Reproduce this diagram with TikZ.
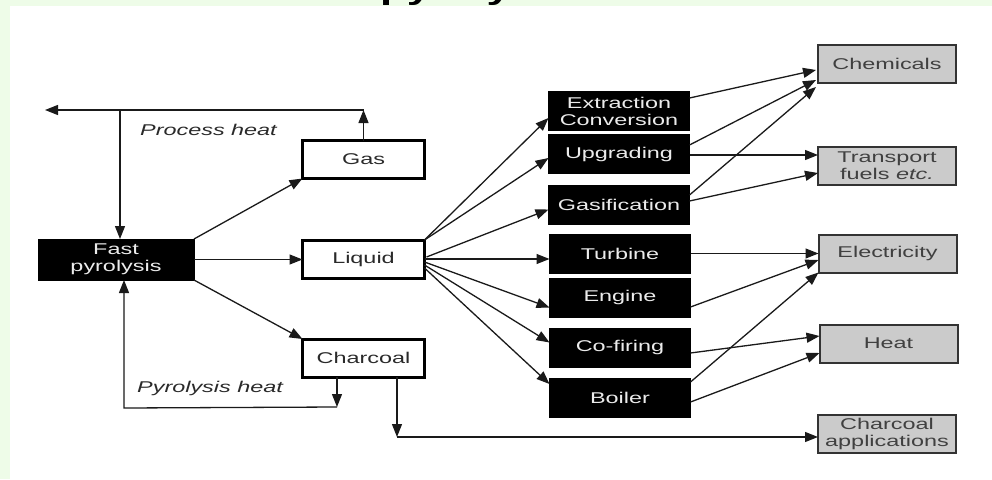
\documentclass[tikz,border=0pt]{standalone}
\usepackage{fontspec}
\setmainfont{Liberation Sans}
\usepackage{graphicx}
\usetikzlibrary{arrows.meta,calc}
\definecolor{bggreen}{HTML}{EEFCE8}
\definecolor{boxgray}{HTML}{CBCBCB}
\definecolor{txtdark}{HTML}{2A2A2A}
\definecolor{linedark}{HTML}{1A1A1A}
\newcommand{\hstretch}[1]{\scalebox{1.5}[1]{#1}}
\tikzset{
 base/.style={inner sep=0pt, outer sep=0pt, align=center, font=\fontsize{15.6}{17}\selectfont},
 blackbox/.style={base, fill=black, draw=black, line width=1pt, text=white!92!black, minimum width=141pt, minimum height=39pt},
 whitebox/.style={base, fill=white, draw=black, line width=3pt, minimum width=122pt, minimum height=38pt, text=txtdark},
 graybox/.style={base, fill=boxgray, draw=black!80, line width=2pt, minimum width=138pt, minimum height=38pt, text=black!75},
 conn/.style={draw=linedark, line width=1.3pt, -{Triangle[length=13pt,width=10pt]}},
 lbl/.style={font=\fontsize{15.6}{17}\selectfont\itshape, text=txtdark, inner sep=0pt, anchor=west},
 titletext/.style={font=\fontsize{29}{30}\selectfont\bfseries, inner sep=0pt, anchor=base west}
}
\begin{document}
\begin{tikzpicture}[x=1pt,y=-1pt]
\useasboundingbox (0,0) rectangle (992,479);
\fill[bggreen] (0,0) rectangle (992,479);
\begin{scope}
\clip (0,0) rectangle (992,6);
\node[titletext] (title) at (380,-1) {\hstretch{pyrolysis}};
\end{scope}
\fill[white] (10,6) rectangle (992,479);

% nodes
\node[blackbox, minimum width=156pt, minimum height=41pt] (fp) at (116,259.5) {\hstretch{Fast}\\\hstretch{pyrolysis}};
\node[whitebox] (gas) at (363.5,159.5) {\hstretch{Gas}};
\node[whitebox] (liq) at (363.5,259) {\hstretch{Liquid}};
\node[whitebox] (char) at (363.5,358) {\hstretch{Charcoal}};
\node[blackbox] (ext) at (619,111) {\hstretch{Extraction}\\\hstretch{Conversion}};
\node[blackbox] (upg) at (619,154) {\hstretch{Upgrading}};
\node[blackbox] (gsf) at (619,204.5) {\hstretch{Gasification}};
\node[blackbox] (tur) at (620,253.5) {\hstretch{Turbine}};
\node[blackbox] (eng) at (620,297.5) {\hstretch{Engine}};
\node[blackbox] (cof) at (620,347.5) {\hstretch{Co-firing}};
\node[blackbox] (boi) at (620,398) {\hstretch{Boiler}};
\node[graybox] (chem) at (887,64) {\hstretch{Chemicals}};
\node[graybox] (trans) at (887,165.5) {\hstretch{Transport}\\\hstretch{fuels \textit{etc.}}};
\node[graybox] (elec) at (887.5,253.5) {\hstretch{Electricity}};
\node[graybox] (heat) at (888.5,343.5) {\hstretch{Heat}};
\node[graybox] (capp) at (887,434) {\hstretch{Charcoal}\\\hstretch{applications}};

\node[lbl] (phl) at (140,130) {\hstretch{Process heat}};
\node[lbl] (pyl) at (137,388) {\hstretch{Pyrolysis heat}};

% fast pyrolysis outputs
\draw[conn] (fp.north east) -- (gas.south west);
\draw[conn] (fp.east) -- (fp.east -| liq.west);
\draw[conn] (fp.south east) -- (char.north west);

% process heat
\coordinate (phy) at (0,110);
\coordinate (phR) at (gas.north |- phy);
\coordinate (phL) at (45,110);
\coordinate (phM) at (120,110);
\draw[conn] (gas.north) -- (phR);
\draw[conn] (phR) -- (phL);
\draw[conn] (phM) -- (phM |- fp.north);

% pyrolysis heat
\coordinate (pyA) at ($(char.south)+(-26.5,0)$);
\coordinate (pyB) at ($(pyA)+(0,30)$);
\coordinate (pyC) at (124,408);
\draw[conn] (pyA) -- (pyB);
\draw[conn] (pyB) -- (pyC) -- (pyC |- fp.south);

% charcoal applications
\coordinate (caA) at ($(char.south)+(33.5,0)$);
\coordinate (caB) at ($(caA)+(0,60)$);
\draw[conn] (caA) -- (caB);
\draw[conn] (caB) -- (caB -| capp.west);

% liquid fan
\draw[conn] (liq.north east) -- ($(ext.west)+(0,7)$);
\draw[conn] (liq.north east) -- ($(upg.west)+(0,4)$);
\draw[conn] ($(liq.east)+(2,-2)$) -- ($(gsf.west)+(0,5)$);
\draw[conn] (liq.east) -- (liq.east -| tur.west);
\draw[conn] ($(liq.east)+(0,3)$) -- ($(eng.west)+(0,10)$);
\draw[conn] ($(liq.east)+(0,6)$) -- ($(cof.west)+(0,-5)$);
\draw[conn] ($(liq.east)+(0,9)$) -- ($(boi.west)+(0,-14)$);

% right side
\draw[conn] ($(ext.east)+(0,-13)$) -- ($(chem.west)+(-2,6)$);
\draw[conn] ($(upg.east)+(0,-9)$) -- ($(chem.west)+(-2,16)$);
\draw[conn] ($(upg.east)+(0,1)$) -- ($(trans.west)+(0,-10.5)$);
\draw[conn] ($(gsf.east)+(0,-9.5)$) -- ($(chem.south west)+(-2,4)$);
\draw[conn] ($(gsf.east)+(0,-3.5)$) -- ($(trans.west)+(0,7.5)$);
\draw[conn] (tur.east) -- (elec.west);
\draw[conn] ($(eng.east)+(0,9.5)$) -- ($(elec.west)+(0,6.5)$);
\draw[conn] ($(boi.east)+(0,-16)$) -- (elec.south west);
\draw[conn] ($(cof.east)+(0,5.5)$) -- ($(heat.west)+(0,-7.5)$);
\draw[conn] ($(boi.east)+(0,4)$) -- ($(heat.west)+(0,9.5)$);
\end{tikzpicture}
\end{document}
